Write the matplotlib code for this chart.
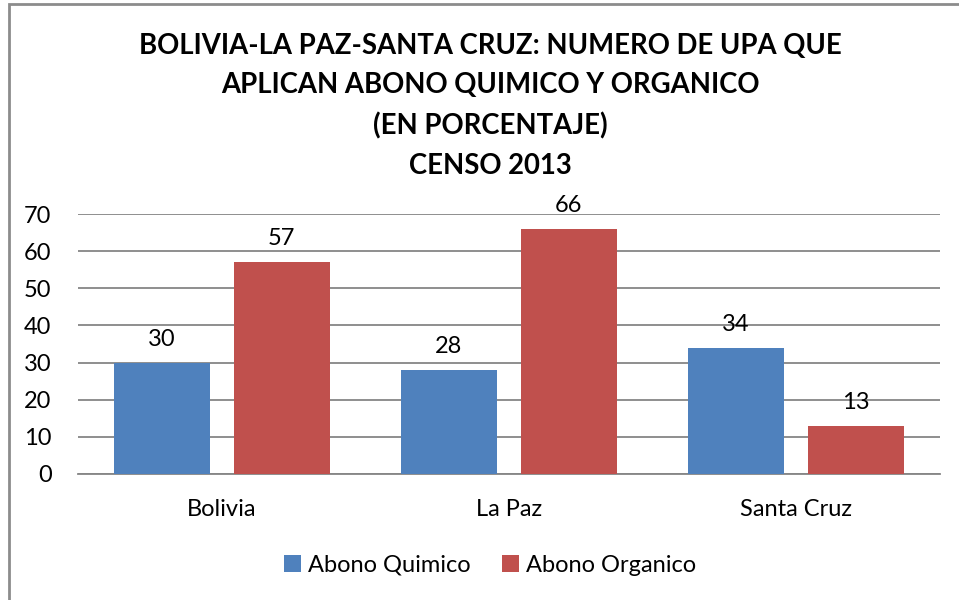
import numpy as np
import matplotlib.pyplot as plt
from matplotlib.patches import Rectangle

categories = ['Bolivia', 'La Paz', 'Santa Cruz']
quimico = [30, 28, 34]
organico = [57, 66, 13]
series_names = ['Abono Quimico', 'Abono Organico']
title = ('BOLIVIA-LA PAZ-SANTA CRUZ: NUMERO DE UPA QUE\n'
         'APLICAN ABONO QUIMICO Y ORGANICO\n(EN PORCENTAJE)\nCENSO 2013')

plt.rcParams['font.family'] = ['Lato', 'DejaVu Sans']

fig = plt.figure(figsize=(9.59, 6), dpi=100)
ax = fig.add_axes([0.0813, 0.21, 0.8987, 0.4333])

# outer chart border (only left and top are visible in the frame)
fig.patches.append(Rectangle((9/959, -0.1), 1.2, 1.1 - 4/600, transform=fig.transFigure,
                             fill=False, edgecolor='#8c8c8c', linewidth=2))

x = np.arange(len(categories))
w = 0.334
off = 0.209
b1 = ax.bar(x - off, quimico, w, color='#4F81BD', label=series_names[0], zorder=3)
b2 = ax.bar(x + off, organico, w, color='#C0504D', label=series_names[1], zorder=3)

for bars, vals in ((b1, quimico), (b2, organico)):
    for r, v in zip(bars, vals):
        ax.text(r.get_x() + r.get_width()/2, v + 3.5, str(v), ha='center', va='bottom',
                fontsize=17, zorder=4)

ax.set_xlim(-0.5, 2.5)
ax.set_ylim(0, 70)
ax.set_yticks(range(0, 71, 10))
ax.yaxis.grid(True, color='#868686', linewidth=1.3, zorder=0)
ax.set_xticks(x)
ax.set_xticklabels(categories, fontsize=17)
ax.tick_params(axis='y', labelsize=17, length=0, pad=19)
ax.tick_params(axis='x', length=0, pad=18)
for s in ['top', 'right', 'left']:
    ax.spines[s].set_visible(False)
ax.spines['bottom'].set_color('#868686')
ax.spines['bottom'].set_linewidth(1.3)

fig.text(0.511, 0.945, title, ha='center', va='top', fontsize=19.8, fontweight='bold',
         linespacing=1.64)

fig.legend(handles=[b1, b2], loc='center', bbox_to_anchor=(0.511, 0.058), ncol=2,
           frameon=False, fontsize=17, handlelength=0.7, handleheight=0.7,
           handletextpad=0.3, columnspacing=1.35)

plt.savefig('out.png', dpi=100)
